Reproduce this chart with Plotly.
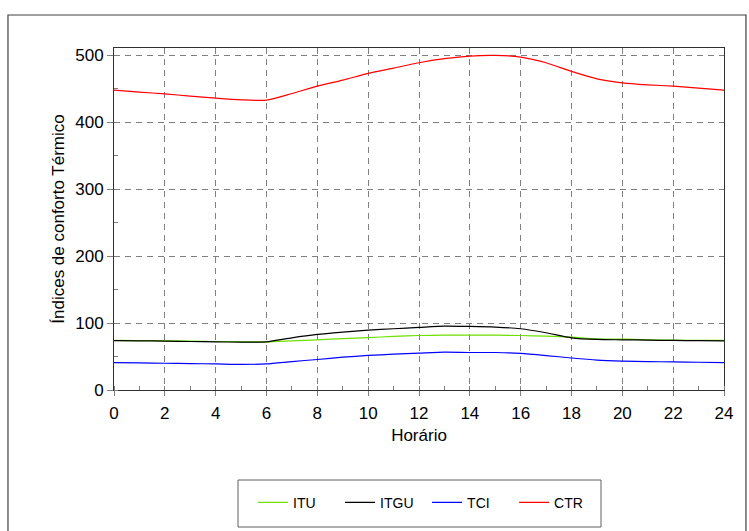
import plotly.graph_objects as go

hours = list(range(0, 25))

itu = [74, 73.8, 73.5, 73, 72.5, 72, 72, 73.5, 75, 76.8, 78.4, 80, 81.4, 82, 82, 82, 81.4, 80.5, 79, 76.5, 76, 75, 74.5, 74.2, 74]
itgu = [73.9, 73.5, 73, 72.5, 72, 71.5, 72, 78, 83, 86.5, 89.5, 91.5, 93.5, 95.5, 95, 94, 91.5, 85.5, 78, 75.5, 75, 74.5, 74, 73.7, 73.4]
tci = [41, 40.5, 40, 39.5, 39, 38.3, 39, 42.5, 45.6, 49, 51.6, 53.5, 55, 56.5, 56, 56, 54.7, 51.5, 47.8, 44.7, 43.2, 42.5, 42, 41.5, 41]
ctr = [448, 445, 442.5, 439, 436, 433.5, 433, 443, 454, 463, 473, 481, 489, 495, 499, 500, 497.5, 489, 476, 465, 459, 456, 454, 451, 448]

series = [
    ("ITU", itu, "#6ee000"),
    ("ITGU", itgu, "#000000"),
    ("TCI", tci, "#0000ff"),
    ("CTR", ctr, "#ff0000"),
]

x_ticks = list(range(0, 25, 2))
y_ticks = list(range(0, 501, 100))

fig = go.Figure()
for name, values, color in series:
    fig.add_trace(go.Scatter(
        x=hours, y=values, name=name, mode="lines",
        line=dict(color=color, width=1.2, shape="spline", smoothing=0.6),
    ))

font = "Liberation Sans, Arial, sans-serif"

# plot area spans x 114..724, y 48..390 in pixels
fig.update_layout(
    width=749, height=531,
    margin=dict(l=114, r=25, t=48, b=141, autoexpand=False),
    paper_bgcolor="white", plot_bgcolor="white",
    font=dict(family=font, size=17, color="black"),
    showlegend=True,
    legend=dict(
        orientation="h", x=0.228, y=-0.330, xanchor="left", yanchor="middle",
        borderwidth=0, bgcolor="rgba(0,0,0,0)",
        entrywidth=42, entrywidthmode="pixels",
        font=dict(family=font, size=14, color="black"),
    ),
    xaxis=dict(
        range=[0, 24], tickvals=x_ticks, ticks="outside", ticklen=5,
        tickcolor="#808080", ticklabelstandoff=3,
        showline=True, linecolor="#303030", linewidth=1, mirror=True,
        showgrid=True, gridcolor="#808080", griddash="6px,5px", gridwidth=1,
        zeroline=False,
        minor=dict(dtick=1, ticks="inside", ticklen=4, tickcolor="#808080", showgrid=False),
        title=dict(text="Horário", standoff=6, font=dict(size=17)),
    ),
    yaxis=dict(
        range=[0, 511], tickvals=y_ticks, ticks="outside", ticklen=6,
        tickcolor="#808080",
        showline=True, linecolor="#303030", linewidth=1, mirror=True,
        showgrid=True, gridcolor="#808080", griddash="6px,5px", gridwidth=1,
        zeroline=False,
        minor=dict(dtick=50, ticks="inside", ticklen=4, tickcolor="#808080", showgrid=False),
        title=dict(text="Índices de conforto Térmico", standoff=6, font=dict(size=17)),
    ),
    shapes=[
        # outer chart frame
        dict(type="rect", xref="paper", yref="paper",
             x0=-0.1738, x1=1.036, y0=-0.45, y1=1.0965,
             line=dict(color="#404040", width=1.2), fillcolor="rgba(0,0,0,0)", layer="below"),
        # legend frame
        dict(type="rect", xref="paper", yref="paper",
             x0=(238 - 114) / 610, x1=(601 - 114) / 610,
             y0=(390 - 527) / 342, y1=(390 - 480) / 342,
             line=dict(color="#606060", width=1), fillcolor="rgba(0,0,0,0)", layer="below"),
    ],
)

fig.write_html("out.html")
